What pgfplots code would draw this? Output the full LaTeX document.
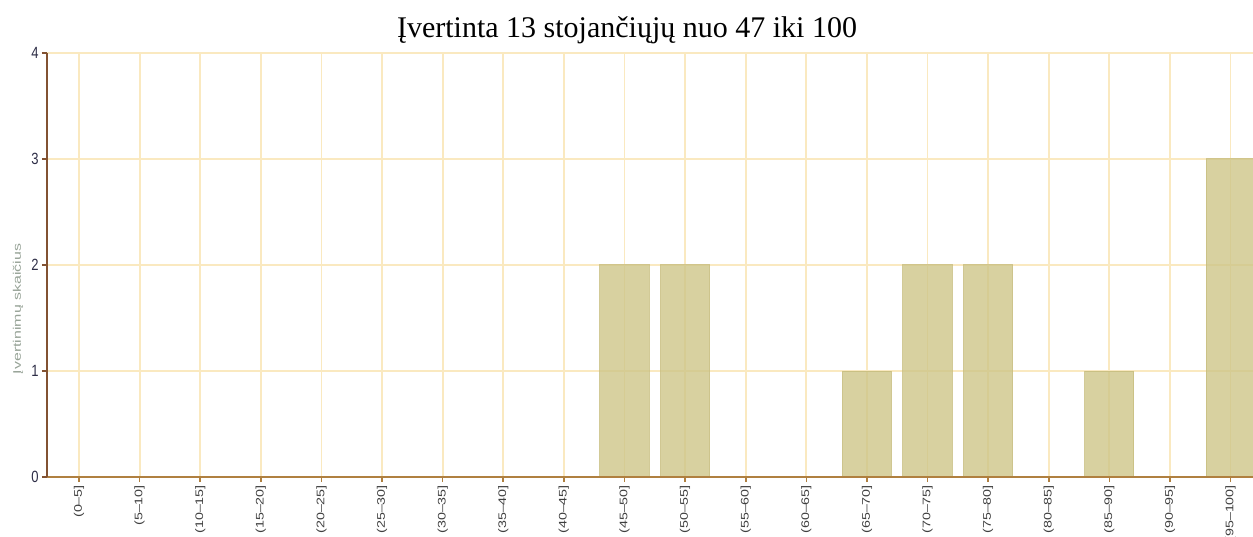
\documentclass[border=0pt]{standalone}
\usepackage{pgfplots}
\pgfplotsset{compat=1.18}
\usepackage{fontspec}
\setmainfont{Liberation Sans}
\newfontfamily\titlefont{Liberation Serif}

\definecolor{gridc}{RGB}{250,233,192}
\definecolor{barc}{RGB}{206,197,136}
\definecolor{baredge}{RGB}{200,190,128}
\definecolor{yaxisc}{RGB}{130,82,50}
\definecolor{xaxisc}{RGB}{176,128,64}
\definecolor{labgray}{RGB}{150,162,150}
\definecolor{tickc}{RGB}{45,45,70}

\begin{document}
\begin{tikzpicture}
\useasboundingbox (0,0) rectangle (626.5pt,268pt);
\begin{axis}[
    at={(23.5pt,29.5pt)}, anchor=south west,
    scale only axis,
    width=603pt, height=212pt,
    xmin=-0.528, xmax=19.37,
    ymin=0, ymax=4,
    ybar, bar width=0.81,
    axis line style={draw=none},
    xtick={0,...,19},
    xticklabels={{(0--5]},{(5--10]},{(10--15]},{(15--20]},{(20--25]},{(25--30]},{(30--35]},{(35--40]},{(40--45]},{(45--50]},{(50--55]},{(55--60]},{(60--65]},{(65--70]},{(70--75]},{(75--80]},{(80--85]},{(85--90]},{(90--95]},{(95--100]}},
    ytick={0,1,2,3,4},
    yticklabels={0,1,2,3,4},
    tick align=outside,
    major tick length=2.5pt,
    xtick pos=bottom, ytick pos=left,
    x tick style={draw=xaxisc, line width=0.8pt},
    y tick style={draw=yaxisc, line width=0.8pt},
    grid=major,
    major grid style={draw=gridc, line width=0.9pt},
    x tick label style={font=\fontsize{5.5pt}{6pt}\selectfont, text=black!75, rotate=90, anchor=east, xscale=1.3, inner sep=1pt},
    y tick label style={font=\fontsize{6.5pt}{7pt}\selectfont, text=tickc, yscale=1.25, inner sep=1.5pt},
    /pgf/number format/assume math mode=true,
    clip mode=individual,
]
\addplot[fill=barc, fill opacity=0.8, draw=baredge, draw opacity=0.8, line width=0.5pt]
  coordinates {(0,0) (1,0) (2,0) (3,0) (4,0) (5,0) (6,0) (7,0) (8,0) (9,2) (10,2) (11,0) (12,0) (13,1) (14,2) (15,2) (16,0) (17,1) (18,0) (19,3)};
\draw[xaxisc, line width=1.3pt] (rel axis cs:0,0) -- (rel axis cs:1,0);
\draw[yaxisc, line width=1.2pt] (rel axis cs:0,0) -- (rel axis cs:0,1);
\end{axis}
\node[font=\titlefont\fontsize{15pt}{16pt}\selectfont, anchor=center] at (313.5pt,253pt) {Įvertinta 13 stojančiųjų nuo 47 iki 100};
\node[font=\fontsize{5.5pt}{6pt}\selectfont, text=labgray, rotate=90, xscale=1.45, anchor=center] at (9pt,113.5pt) {Įvertinimų skaičius};
\end{tikzpicture}
\end{document}
